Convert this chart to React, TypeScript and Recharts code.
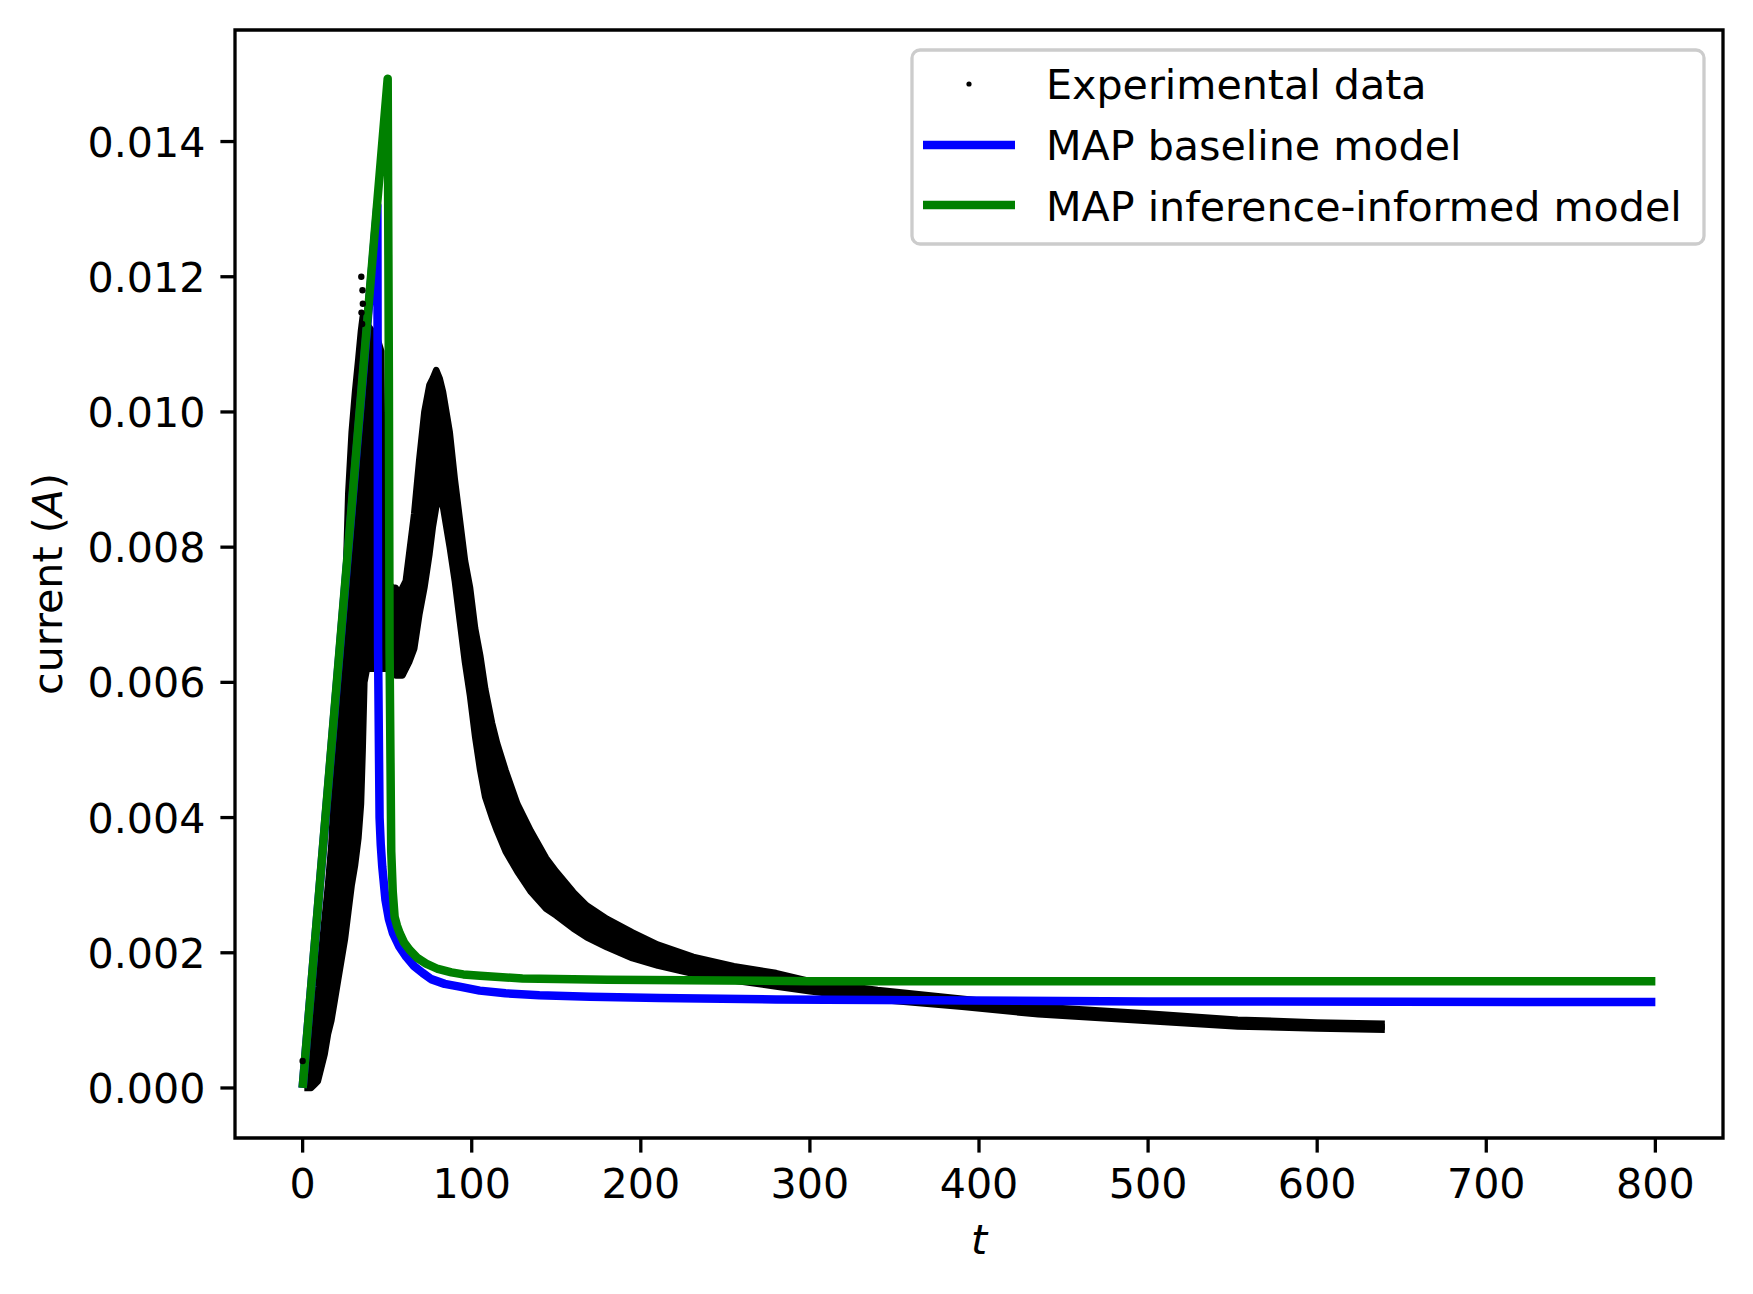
import React from "react";
import {
  ComposedChart,
  Area,
  Line,
  Scatter,
  XAxis,
  YAxis,
  ReferenceArea,
} from "recharts";

// ---------- data ----------
const expT = [1, 3, 5, 7, 9, 11, 13, 15, 17, 19, 21, 23, 25, 27, 29, 31, 33, 34.5, 35.5, 36.5, 38, 41, 44, 46.5, 47.5, 50, 53, 55, 57, 59, 61, 63, 66, 69, 72, 75, 77, 79, 81, 83, 85, 87, 90, 93, 96, 99, 102, 105, 108, 112, 115, 120, 127, 135, 144, 150, 160, 168, 180, 195, 210, 231, 255, 280, 300, 340, 390, 435, 500, 553, 600, 640];
const expLow = [0.0, 0.0, 0.0, 0.00005, 0.0001, 0.0003, 0.0005, 0.0008, 0.001, 0.0013, 0.0016, 0.0019, 0.0022, 0.0026, 0.003, 0.0033, 0.0037, 0.0042, 0.005, 0.006, 0.0062, 0.0062, 0.0062, 0.0062, 0.0062, 0.0062, 0.0062, 0.0061, 0.0061, 0.0061, 0.0062, 0.0063, 0.0065, 0.007, 0.0074, 0.0079, 0.0083, 0.0086, 0.0087, 0.0086, 0.0083, 0.008, 0.0075, 0.0069, 0.0063, 0.0058, 0.0052, 0.0047, 0.0043, 0.0040, 0.0038, 0.0035, 0.0032, 0.0029, 0.00265, 0.00255, 0.00236, 0.00223, 0.00208, 0.00192, 0.00181, 0.00169, 0.00159, 0.0015, 0.00143, 0.00131, 0.0012, 0.00109, 0.00099, 0.00091, 0.00088, 0.00086];
const expHigh = [0.0003, 0.0005, 0.0008, 0.0011, 0.0015, 0.002, 0.0025, 0.003, 0.0036, 0.0046, 0.0058, 0.0066, 0.0071, 0.0088, 0.0097, 0.0103, 0.0108, 0.0112, 0.0114, 0.0114, 0.0113, 0.0112, 0.0111, 0.0109, 0.0076, 0.0075, 0.0074, 0.0074, 0.0073, 0.0074, 0.0075, 0.0079, 0.0085, 0.0093, 0.01, 0.0104, 0.0105, 0.01062, 0.0105, 0.0103, 0.0100, 0.0097, 0.009, 0.0084, 0.0078, 0.0074, 0.0068, 0.0064, 0.0059, 0.0054, 0.0051, 0.0047, 0.0042, 0.0038, 0.0034, 0.0032, 0.0029, 0.0027, 0.0025, 0.0023, 0.00212, 0.00194, 0.0018, 0.0017, 0.00158, 0.00145, 0.00132, 0.0012, 0.0011, 0.00101, 0.00097, 0.00095];

const outlierT = [0, 34.7, 35.4, 35.6, 34.8, 35.2, 79, 80];
const outlierV = [0.0004, 0.012, 0.0118, 0.0116, 0.01147, 0.0113, 0.01058, 0.0105];

const blueT = [0, 44.2, 44.4, 44.6, 45.5, 46.2, 47.1, 49, 51, 53.4, 57, 61.3, 66, 71, 76, 84, 92.8, 104.7, 120, 140, 170, 211, 280, 340, 500, 800];
const blueV = [0, 0.01305, 0.01, 0.0065, 0.004, 0.0036, 0.00327, 0.00278, 0.0025, 0.00229, 0.0021, 0.00194, 0.0018, 0.0017, 0.00161, 0.00154, 0.0015, 0.00144, 0.0014, 0.00137, 0.00135, 0.00133, 0.00131, 0.0013, 0.00128, 0.00127];

const greenT = [0, 50.3, 51.0, 51.4, 52.4, 53.3, 54.4, 55.8, 57.4, 60, 63.3, 68, 73, 80, 88, 95, 105, 130, 180, 300, 800];
const greenV = [0, 0.01493, 0.0105, 0.0065, 0.0035, 0.0029, 0.00253, 0.0024, 0.00229, 0.00215, 0.00204, 0.00192, 0.00184, 0.00176, 0.00171, 0.00168, 0.00166, 0.00162, 0.0016, 0.00158, 0.00158];

const xTicks = [0, 100, 200, 300, 400, 500, 600, 700, 800];
const yTicks = [0, 0.002, 0.004, 0.006, 0.008, 0.01, 0.012, 0.014];
const xDomain: [number, number] = [-40, 840];
const yDomain: [number, number] = [-0.00074, 0.01565];

const legendLabels = ["Experimental data", "MAP baseline model", "MAP inference-informed model"];

// ---------- derived tables ----------
const bandRows = expT.map((t, i) => ({ t, range: [expLow[i], expHigh[i]] }));
const outliers = outlierT.map((t, i) => ({ t, v: outlierV[i] }));
const blueData = blueT.map((t, i) => ({ t, v: blueV[i] }));
const greenData = greenT.map((t, i) => ({ t, v: greenV[i] }));

// ---------- styling ----------
const W = 1737;
const H = 1278;
const FONT = "'DejaVu Sans', sans-serif";
const FS = 41.2;
const BLUE = "#0000ff";
const GREEN = "#008000";
const LW = 8.5;

const XTick = (props: any) => {
  const { x, y, payload } = props;
  return (
    <text x={x} y={y + 45} textAnchor="middle" fontFamily={FONT} fontSize={FS} fill="#000">
      {payload.value}
    </text>
  );
};

const YTick = (props: any) => {
  const { x, y, payload } = props;
  return (
    <text x={x - 15} y={y + 15} textAnchor="end" fontFamily={FONT} fontSize={FS} fill="#000">
      {Number(payload.value).toFixed(3)}
    </text>
  );
};

const XLabel = () => (
  <text x={971} y={1246} textAnchor="middle" fontFamily={FONT} fontSize={FS} fontStyle="italic" fill="#000">
    t
  </text>
);

const YLabel = () => (
  <text
    x={54}
    y={576}
    transform="rotate(-90, 54, 576)"
    textAnchor="middle"
    fontFamily={FONT}
    fontSize={FS}
    fill="#000"
  >
    current (<tspan fontStyle="italic">A</tspan>)
  </text>
);

const Dot = (props: any) => {
  const { cx, cy } = props;
  if (cx == null || cy == null) return null;
  return <circle cx={cx} cy={cy} r={3.2} fill="#000" />;
};

const LegendOverlay = () => {
  const textX = 1038;
  return (
    <svg
      width={W}
      height={H}
      style={{ position: "absolute", left: 0, top: 0, pointerEvents: "none" }}
    >
      <rect x={904} y={42} width={792} height={194} rx={8} ry={8} fill="#ffffff" fillOpacity={0.8} stroke="#cccccc" strokeWidth={3.3} />
      <circle cx={961} cy={76} r={2.6} fill="#000" />
      <line x1={915} y1={137} x2={1007} y2={137} stroke={BLUE} strokeWidth={LW} />
      <line x1={915} y1={197} x2={1007} y2={197} stroke={GREEN} strokeWidth={LW} />
      {legendLabels.map((s, i) => (
        <text key={s} x={textX} y={91 + i * 61} fontFamily={FONT} fontSize={FS} fill="#000">
          {s}
        </text>
      ))}
    </svg>
  );
};

export default function App() {
  return (
    <div style={{ position: "relative", width: W, height: H, background: "#fff" }}>
      <ComposedChart
        width={W}
        height={H}
        data={bandRows}
        margin={{ top: 22, right: 22, bottom: 0, left: 0 }}
      >
        <XAxis
          dataKey="t"
          type="number"
          domain={xDomain}
          ticks={xTicks}
          allowDataOverflow
          height={148}
          axisLine={false}
          tickLine={{ stroke: "#000", strokeWidth: 3.3 }}
          tickSize={14.6}
          tickMargin={0}
          tick={<XTick />}
          interval={0}
          label={<XLabel />}
        />
        <YAxis
          type="number"
          domain={yDomain}
          ticks={yTicks}
          allowDataOverflow
          width={227}
          axisLine={false}
          tickLine={{ stroke: "#000", strokeWidth: 3.3 }}
          tickSize={14.6}
          tickMargin={0}
          tick={<YTick />}
          interval={0}
          label={<YLabel />}
        />
        <Area
          dataKey="range"
          type="linear"
          stroke="#000"
          strokeWidth={6.5}
          strokeLinejoin="round"
          fill="#000"
          fillOpacity={1}
          isAnimationActive={false}
          dot={false}
          activeDot={false}
        />
        <Scatter data={outliers} dataKey="v" fill="#000" shape={<Dot />} isAnimationActive={false} />
        <Line
          data={blueData}
          dataKey="v"
          type="linear"
          stroke={BLUE}
          strokeWidth={LW}
          strokeLinejoin="round"
          dot={false}
          activeDot={false}
          isAnimationActive={false}
        />
        <Line
          data={greenData}
          dataKey="v"
          type="linear"
          stroke={GREEN}
          strokeWidth={LW}
          strokeLinejoin="round"
          dot={false}
          activeDot={false}
          isAnimationActive={false}
        />
        <ReferenceArea
          x1={xDomain[0]}
          x2={xDomain[1]}
          y1={yDomain[0]}
          y2={yDomain[1]}
          fill="none"
          fillOpacity={0}
          stroke="#000"
          strokeWidth={3.3}
          ifOverflow="visible"
        />
      </ComposedChart>
      <LegendOverlay />
    </div>
  );
}
